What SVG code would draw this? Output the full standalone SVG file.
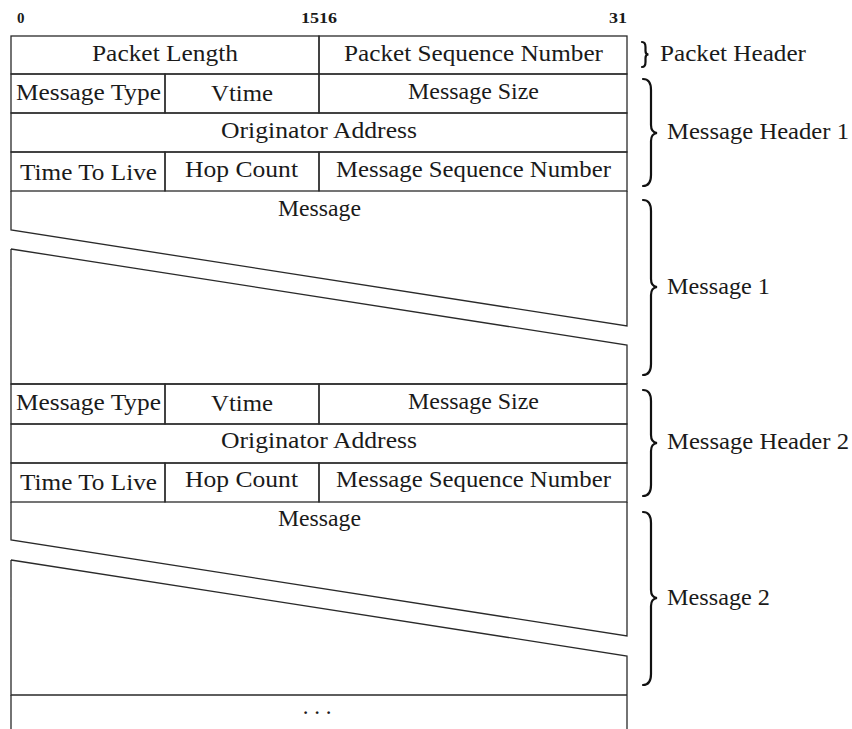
<svg xmlns="http://www.w3.org/2000/svg" width="852" height="729" viewBox="0 0 852 729">
<style>
.c{fill:none;stroke:#2a2a2a;stroke-width:1.3}
.t{font-family:"Liberation Serif","Times New Roman",serif;font-size:23px;fill:#1a1a1a;text-anchor:middle}
.r{font-family:"Liberation Serif","Times New Roman",serif;font-size:23px;fill:#1a1a1a}
.b{font-family:"Liberation Serif","Times New Roman",serif;font-size:15px;font-weight:bold;fill:#1a1a1a}
.br{fill:none;stroke:#111;stroke-width:2.2;stroke-linecap:round}
</style>
<rect width="852" height="729" fill="#fff"/>
<g id="bits">
<text class="b" x="17" y="23">0</text>
<text class="b" x="319" y="23" text-anchor="middle" textLength="36" lengthAdjust="spacingAndGlyphs">1516</text>
<text class="b" x="627" y="23" text-anchor="end" textLength="18" lengthAdjust="spacingAndGlyphs">31</text>
</g>
<g id="packet-header">
<g id="packet-length"><rect class="c" x="11" y="36" width="308" height="38"/><text class="t" x="165" y="61" textLength="146" lengthAdjust="spacingAndGlyphs">Packet Length</text></g>
<g id="packet-seq"><rect class="c" x="319" y="36" width="308" height="38"/><text class="t" x="473.5" y="61" textLength="259" lengthAdjust="spacingAndGlyphs">Packet Sequence Number</text></g>
</g>
<g id="message-header-1">
<g id="mh1-type"><rect class="c" x="11" y="74" width="154" height="39"/><text class="t" x="88.5" y="100" textLength="145" lengthAdjust="spacingAndGlyphs">Message Type</text></g>
<g id="mh1-vtime"><rect class="c" x="165" y="74" width="154" height="39"/><text class="t" x="242" y="101" textLength="62" lengthAdjust="spacingAndGlyphs">Vtime</text></g>
<g id="mh1-size"><rect class="c" x="319" y="74" width="308" height="39"/><text class="t" x="473.5" y="99" textLength="131" lengthAdjust="spacingAndGlyphs">Message Size</text></g>
<g id="mh1-orig"><rect class="c" x="11" y="113" width="616" height="39"/><text class="t" x="319" y="138" textLength="196" lengthAdjust="spacingAndGlyphs">Originator Address</text></g>
<g id="mh1-ttl"><rect class="c" x="11" y="152" width="154" height="39"/><text class="t" x="88.5" y="180" textLength="137" lengthAdjust="spacingAndGlyphs">Time To Live</text></g>
<g id="mh1-hop"><rect class="c" x="165" y="152" width="154" height="39"/><text class="t" x="241.5" y="177" textLength="113" lengthAdjust="spacingAndGlyphs">Hop Count</text></g>
<g id="mh1-seq"><rect class="c" x="319" y="152" width="308" height="39"/><text class="t" x="473.5" y="177" textLength="275" lengthAdjust="spacingAndGlyphs">Message Sequence Number</text></g>
</g>
<g id="message-1">
<path class="c" d="M11,191 V230 L627,326 V191 M11,249 L627,345 V384 M11,249 V384 H627"/>
<text class="t" x="319.5" y="216" textLength="83" lengthAdjust="spacingAndGlyphs">Message</text>
</g>
<g id="message-header-2">
<g id="mh2-type"><rect class="c" x="11" y="384" width="154" height="40"/><text class="t" x="88.5" y="410" textLength="145" lengthAdjust="spacingAndGlyphs">Message Type</text></g>
<g id="mh2-vtime"><rect class="c" x="165" y="384" width="154" height="40"/><text class="t" x="242" y="411" textLength="62" lengthAdjust="spacingAndGlyphs">Vtime</text></g>
<g id="mh2-size"><rect class="c" x="319" y="384" width="308" height="40"/><text class="t" x="473.5" y="409" textLength="131" lengthAdjust="spacingAndGlyphs">Message Size</text></g>
<g id="mh2-orig"><rect class="c" x="11" y="424" width="616" height="39"/><text class="t" x="319" y="448" textLength="196" lengthAdjust="spacingAndGlyphs">Originator Address</text></g>
<g id="mh2-ttl"><rect class="c" x="11" y="463" width="154" height="39"/><text class="t" x="88.5" y="490" textLength="137" lengthAdjust="spacingAndGlyphs">Time To Live</text></g>
<g id="mh2-hop"><rect class="c" x="165" y="463" width="154" height="39"/><text class="t" x="241.5" y="487" textLength="113" lengthAdjust="spacingAndGlyphs">Hop Count</text></g>
<g id="mh2-seq"><rect class="c" x="319" y="463" width="308" height="39"/><text class="t" x="473.5" y="487" textLength="275" lengthAdjust="spacingAndGlyphs">Message Sequence Number</text></g>
</g>
<g id="message-2">
<path class="c" d="M11,502 V540 L627,636 V502 M11,560 L627,656 V695 M11,560 V695 H627"/>
<text class="t" x="319.5" y="526" textLength="83" lengthAdjust="spacingAndGlyphs">Message</text>
</g>
<g id="more">
<path class="c" d="M11,695 V730 M627,695 V730"/>
<text class="t" x="317" y="714" font-size="20">. . .</text>
</g>
<g id="braces">
<path class="br" stroke-width="1.6" d="M642,42 C645,42 645.5,44 645.5,47 L645.5,51 C645.5,53 646.5,54.5 648.5,54.5 C646.5,54.5 645.5,56 645.5,58 L645.5,62 C645.5,65 645,67 642,67"/>
<path class="br" d="M643,79 C649,79 651,83 651,90 L651,125 C651,130 653,132.5 657,133 C653,133.5 651,136 651,141 L651,175 C651,182 649,186 643,186"/>
<path class="br" d="M643,200 C649,200 651,204 651,211 L651,279 C651,284 653,286.5 657,287 C653,287.5 651,290 651,295 L651,364 C651,371 649,375 643,375"/>
<path class="br" d="M643,390 C649,390 651,394 651,401 L651,435 C651,440 653,442.5 657,443 C653,443.5 651,446 651,451 L651,485 C651,492 649,496 643,496"/>
<path class="br" d="M643,512 C649,512 651,516 651,523 L651,590 C651,595 653,597.5 657,598 C653,598.5 651,601 651,606 L651,674 C651,681 649,685 643,685"/>
</g>
<g id="labels">
<text class="r" x="660" y="61" textLength="146" lengthAdjust="spacingAndGlyphs">Packet Header</text>
<text class="r" x="667" y="139" textLength="182" lengthAdjust="spacingAndGlyphs">Message Header 1</text>
<text class="r" x="667" y="294" textLength="103" lengthAdjust="spacingAndGlyphs">Message 1</text>
<text class="r" x="667" y="449" textLength="182" lengthAdjust="spacingAndGlyphs">Message Header 2</text>
<text class="r" x="667" y="605" textLength="103" lengthAdjust="spacingAndGlyphs">Message 2</text>
</g>
</svg>
